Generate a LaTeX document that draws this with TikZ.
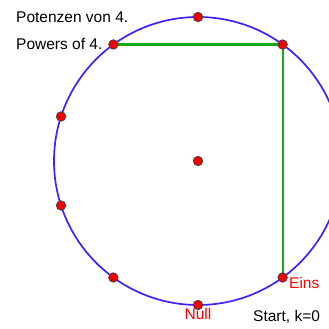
\documentclass[tikz,border=0pt]{standalone}
\usepackage{fontspec}
\setmainfont{Liberation Sans}
\usetikzlibrary{calc}
\definecolor{circblue}{RGB}{64,32,255}
\definecolor{pathgreen}{RGB}{20,170,20}
\definecolor{dotred}{RGB}{240,0,0}
\begin{document}
\begin{tikzpicture}[x=1pt,y=1pt,
  dotnode/.style={circle,fill=dotred,draw=black!75,line width=0.7pt,inner sep=0pt,minimum size=9.5pt},
  lbl/.style={font=\fontsize{15.5}{17}\selectfont,inner sep=0pt},
  redlbl/.style={lbl,text=red}]
\useasboundingbox (0,0) rectangle (329,329);
\clip (0,0) rectangle (329,329);
\coordinate (C) at (198,168);
\draw[circblue,line width=1.7pt] (C) circle[radius=144];
\foreach \k in {0,...,9}{
  \coordinate (p\k) at ($(C)+({-90+36*\k}:144)$);
}
\draw[pathgreen,line width=2.2pt] (p1) -- (p4) -- (p6);
\foreach \k in {0,...,9}{
  \node[dotnode] (d\k) at (p\k) {};
}
\node[dotnode] (center) at (C) {};
\node[lbl,anchor=west] (t1) at (16,312) {Potenzen von 4.};
\node[lbl,anchor=west] (t2) at (16,285) {Powers of 4.};
\node[redlbl,anchor=west] (eins) at (289,46) {Eins};
\node[redlbl] (null) at (198,15) {Null};
\node[lbl,anchor=west] (start) at (253,12) {Start, k=0};
\end{tikzpicture}
\end{document}
